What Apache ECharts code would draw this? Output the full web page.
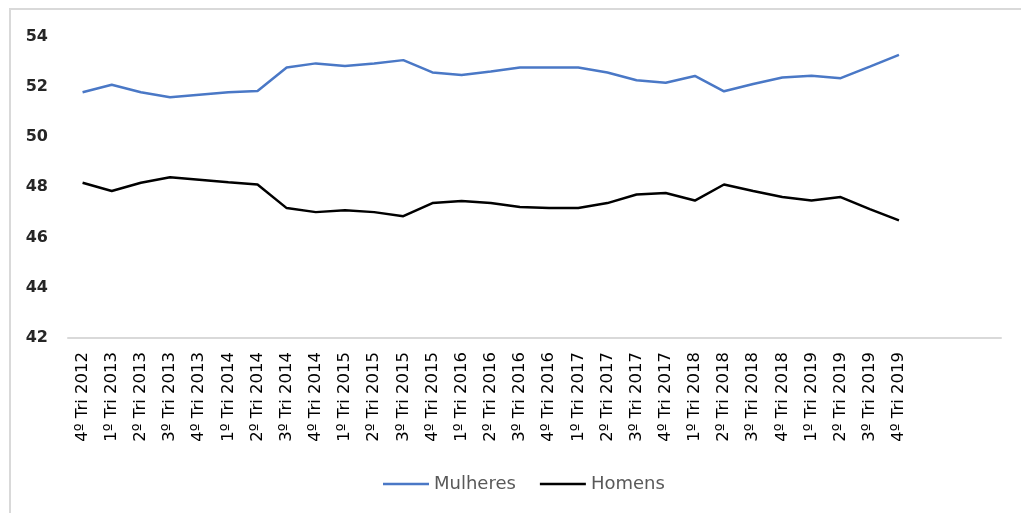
<!DOCTYPE html>
<html>
<head>
<meta charset="utf-8">
<script src="https://cdn.jsdelivr.net/npm/echarts@6/dist/echarts.min.js"></script>
<style>
  html, body { margin: 0; padding: 0; background: #fff; }
  #chart { width: 1021px; height: 513px; }
</style>
</head>
<body>
<div id="chart"></div>
<script>
// Quarterly share (%) by sex, 4º Tri 2012 – 4º Tri 2019
const quarters = [
  '4º Tri 2012',
  '1º Tri 2013', '2º Tri 2013', '3º Tri 2013', '4º Tri 2013',
  '1º Tri 2014', '2º Tri 2014', '3º Tri 2014', '4º Tri 2014',
  '1º Tri 2015', '2º Tri 2015', '3º Tri 2015', '4º Tri 2015',
  '1º Tri 2016', '2º Tri 2016', '3º Tri 2016', '4º Tri 2016',
  '1º Tri 2017', '2º Tri 2017', '3º Tri 2017', '4º Tri 2017',
  '1º Tri 2018', '2º Tri 2018', '3º Tri 2018', '4º Tri 2018',
  '1º Tri 2019', '2º Tri 2019', '3º Tri 2019', '4º Tri 2019'
];

const mulheres = [
  51.78, 52.08, 51.78, 51.58, 51.68, 51.78, 51.83, 52.77, 52.93, 52.83,
  52.93, 53.06, 52.57, 52.47, 52.61, 52.77, 52.77, 52.77, 52.57, 52.26,
  52.16, 52.43, 51.82, 52.11, 52.37, 52.44, 52.34, 52.80, 53.27
];

const homens = [
  48.18, 47.85, 48.18, 48.40, 48.30, 48.20, 48.11, 47.17, 47.01, 47.08,
  47.01, 46.85, 47.37, 47.45, 47.37, 47.21, 47.17, 47.17, 47.37, 47.71,
  47.77, 47.47, 48.11, 47.85, 47.61, 47.47, 47.61, 47.13, 46.68
];

const yTicks = { min: 42, max: 54, step: 2 };

// the category axis runs a few empty slots past the last quarter
const xCategories = quarters.concat(['', '', '']);

const FONT = 'DejaVu Sans, Verdana, sans-serif';

const chart = echarts.init(document.getElementById('chart'), null, { renderer: 'canvas' });

chart.setOption({
  backgroundColor: '#ffffff',
  animation: false,
  graphic: [{
    type: 'rect',
    shape: { x: 10, y: 9, width: 1030, height: 520 },
    style: { fill: 'none', stroke: '#d9d9d9', lineWidth: 2 },
    silent: true
  }],
  grid: { left: 68, right: 20, top: 36.5, bottom: 175 },
  legend: {
    left: 383,
    top: 475,
    padding: 0,
    itemWidth: 46,
    itemHeight: 2.5,
    itemGap: 24,
    icon: 'rect',
    textStyle: { color: '#595959', fontSize: 18, fontFamily: FONT },
    data: ['Mulheres', 'Homens']
  },
  xAxis: {
    type: 'category',
    data: xCategories,
    boundaryGap: true,
    axisLine: { lineStyle: { color: '#d9d9d9', width: 2 } },
    axisTick: { show: false },
    axisLabel: {
      interval: 0,
      rotate: 90,
      margin: 14,
      color: '#000000',
      fontSize: 16.5,
      fontFamily: FONT
    },
    splitLine: { show: false }
  },
  yAxis: {
    type: 'value',
    min: yTicks.min,
    max: yTicks.max,
    interval: yTicks.step,
    axisLine: { show: false },
    axisTick: { show: false },
    splitLine: { show: false },
    axisLabel: {
      margin: 20,
      color: '#262626',
      fontSize: 16,
      fontWeight: 'bold',
      fontFamily: FONT
    }
  },
  series: [
    {
      name: 'Mulheres',
      type: 'line',
      data: mulheres,
      showSymbol: false,
      symbol: 'none',
      lineStyle: { color: '#4a78c6', width: 2.5 },
      itemStyle: { color: '#4a78c6' }
    },
    {
      name: 'Homens',
      type: 'line',
      data: homens,
      showSymbol: false,
      symbol: 'none',
      lineStyle: { color: '#000000', width: 2.5 },
      itemStyle: { color: '#000000' }
    }
  ]
});
</script>
</body>
</html>
